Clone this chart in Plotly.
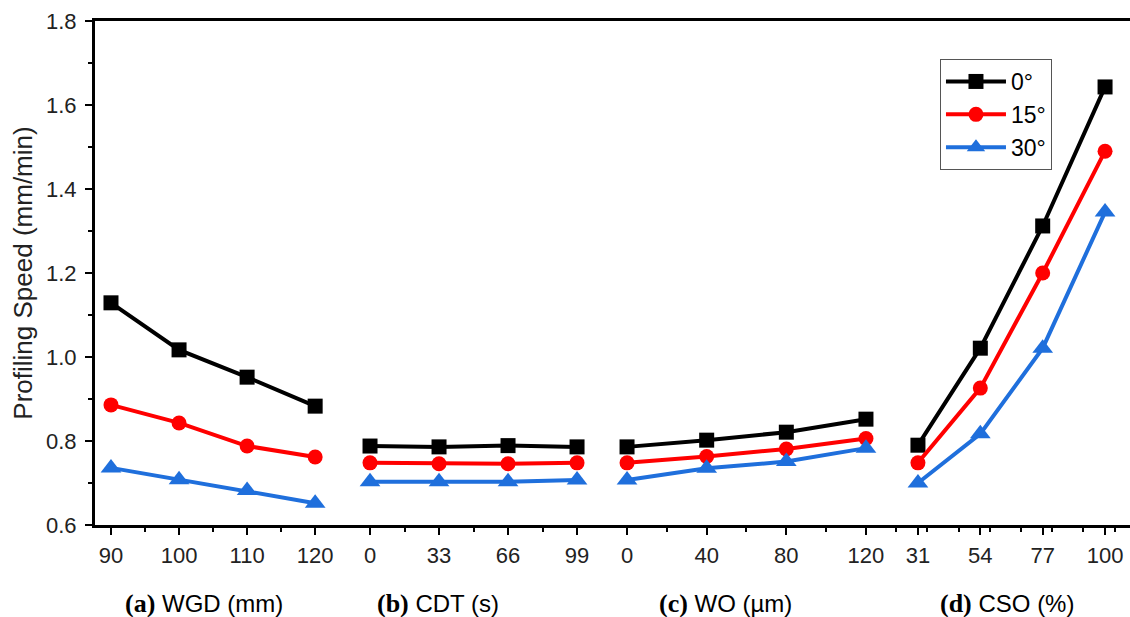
import plotly.graph_objects as go

# ---- data ----
series_names = ["0°", "15°", "30°"]
colors = ["#000000", "#ff0000", "#1f6fdc"]
symbols = ["square", "circle", "triangle-up"]

wgd_x = [90, 100, 110, 120]
cdt_x = [0, 33, 66, 99]
wo_x = [0, 40, 80, 120]
cso_x = [31, 54, 77, 100]

wgd_y = {
    "0°": [1.129, 1.017, 0.952, 0.883],
    "15°": [0.886, 0.843, 0.788, 0.762],
    "30°": [0.736, 0.708, 0.682, 0.652],
}
cdt_y = {
    "0°": [0.788, 0.786, 0.789, 0.786],
    "15°": [0.748, 0.746, 0.746, 0.748],
    "30°": [0.703, 0.703, 0.703, 0.707],
}
wo_y = {
    "0°": [0.786, 0.802, 0.821, 0.852],
    "15°": [0.748, 0.763, 0.781, 0.806],
    "30°": [0.707, 0.735, 0.751, 0.783],
}
cso_y = {
    "0°": [0.790, 1.021, 1.312, 1.643],
    "15°": [0.748, 0.926, 1.200, 1.490],
    "30°": [0.700, 0.817, 1.021, 1.345],
}

groups = [
    ("x", wgd_x, wgd_y),
    ("x2", cdt_x, cdt_y),
    ("x3", wo_x, wo_y),
    ("x4", cso_x, cso_y),
]
group_labels = ["(a)", "(b)", "(c)", "(d)"]
group_titles = ["WGD (mm)", "CDT (s)", "WO (µm)", "CSO (%)"]

fig = go.Figure()
for gi, (xa, xs, ys) in enumerate(groups):
    for name, col, sym in zip(series_names, colors, symbols):
        fig.add_trace(go.Scatter(
            x=xs, y=ys[name], xaxis=xa, yaxis="y",
            mode="lines+markers", name=name, legendgroup=name,
            showlegend=(gi == 0),
            line=dict(color=col, width=4),
            marker=dict(symbol=sym, size=15 if sym != "triangle-up" else 18,
                        color=col, line=dict(width=0)),
            cliponaxis=False,
        ))

font_sans = "Liberation Sans, Arial, sans-serif"
tickfont = dict(family=font_sans, size=22, color="#222222")

common_x = dict(
    showline=True, linecolor="black", linewidth=3, mirror=True,
    ticks="outside", ticklen=7, tickwidth=2, tickcolor="black",
    showgrid=False, zeroline=False, tickfont=tickfont, anchor="y",
    tickmode="linear", ticklabelstandoff=2,
)

def minor(dt):
    return dict(dtick=dt, ticklen=4, tickwidth=2, tickcolor="black", ticks="outside")

fig.update_layout(
    width=1130, height=617,
    margin=dict(l=95, r=0, t=21, b=92),
    paper_bgcolor="white", plot_bgcolor="white",
    showlegend=True,
    legend=dict(
        x=0.8164, y=0.9246, xanchor="left", yanchor="top",
        bgcolor="white", bordercolor="#555555", borderwidth=1,
        font=dict(family=font_sans, size=23, color="black"),
        tracegroupgap=0, itemwidth=60,
    ),
    xaxis=dict(domain=[0, 0.2377], range=[87.65, 123.8], tick0=90, dtick=10,
               minor=minor(5), **common_x),
    xaxis2=dict(domain=[0.2377, 0.4899], range=[-13.87, 110.96], tick0=0, dtick=33,
                minor=minor(16.5), **common_x),
    xaxis3=dict(domain=[0.4899, 0.7700], range=[-12.55, 133.05], tick0=0, dtick=40,
                minor=minor(20), **common_x),
    xaxis4=dict(domain=[0.7700, 1.0], range=[21.41, 109.2], tick0=31, dtick=23,
                minor=minor(11.5), **common_x),
    yaxis=dict(
        range=[0.6, 1.8], tick0=0.6, dtick=0.2, tickformat=".1f",
        showline=True, linecolor="black", linewidth=3,
        ticks="outside", ticklen=7, tickwidth=2, tickcolor="black",
        minor=minor(0.1),
        showgrid=False, zeroline=False, tickfont=tickfont, anchor="x",
        ticklabelstandoff=4,
        title=dict(text="Profiling Speed (mm/min)", standoff=6,
                   font=dict(family=font_sans, size=26, color="#222222")),
    ),
)

label_px = [204, 438, 725, 1007]
for px, lab, tit in zip(label_px, group_labels, group_titles):
    fig.add_annotation(
        x=(px - 95) / 1035, y=(525 - 603) / 504, xref="paper", yref="paper",
        xanchor="center", yanchor="middle", showarrow=False,
        text=f"<span style='font-family:Liberation Serif, Times New Roman, serif;font-size:26px'><b>{lab}</b></span> {tit}",
        font=dict(family=font_sans, size=24, color="black"),
    )

fig.write_html("out.html")
